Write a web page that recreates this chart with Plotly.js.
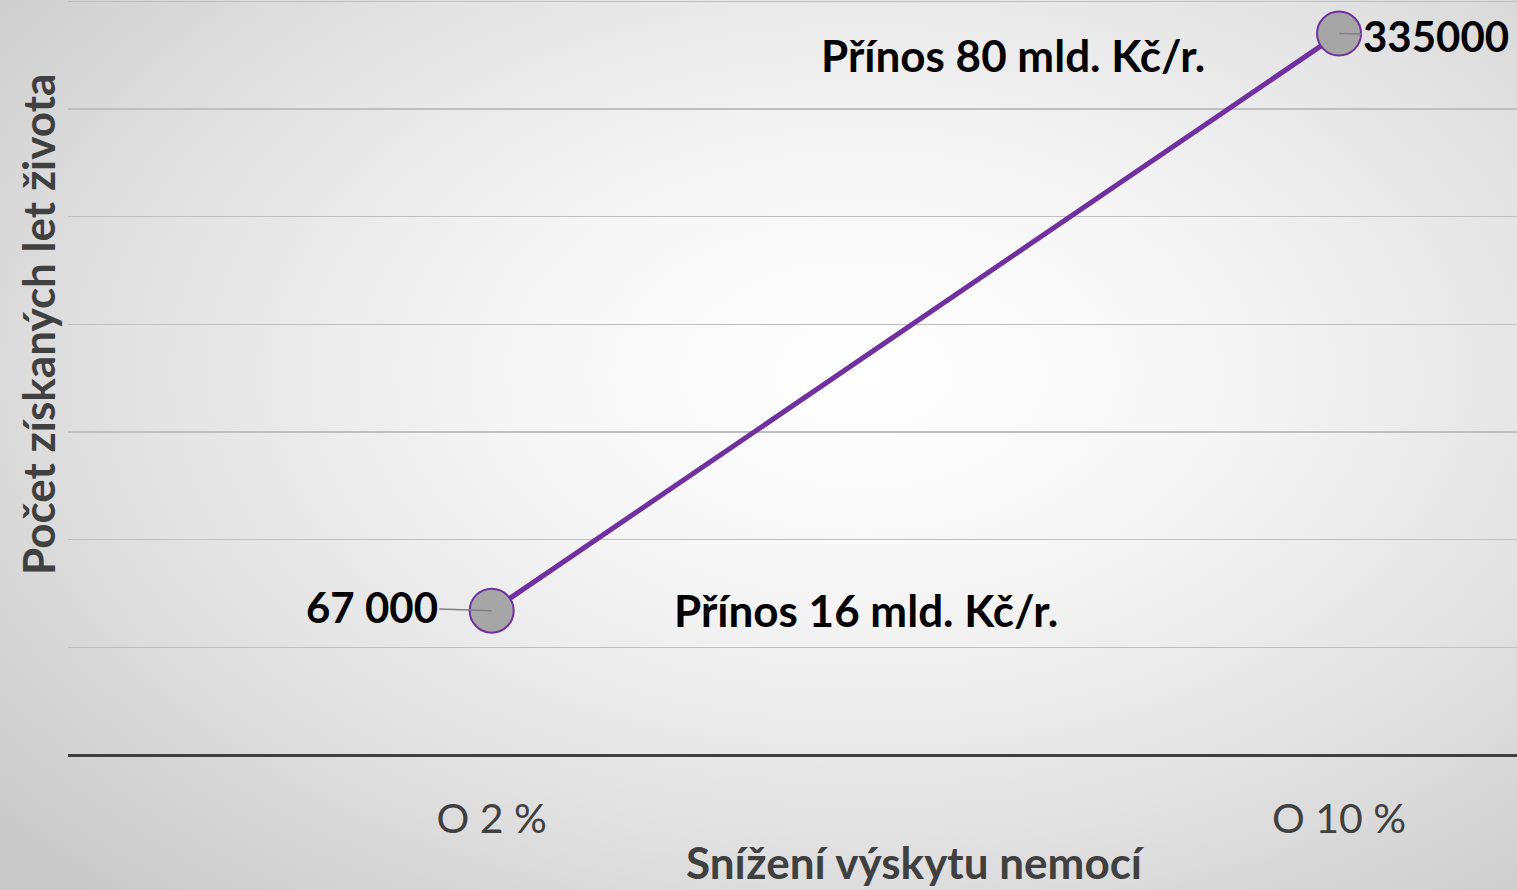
<!DOCTYPE html>
<html><head><meta charset="utf-8">
<script src="https://cdn.plot.ly/plotly-3.0.1.min.js"></script>
<style>
html,body{margin:0;padding:0;}
body{width:1517px;height:890px;overflow:hidden;background:radial-gradient(ellipse 75% 80% at 57% 42%, #ffffff 0%, #f6f6f6 30%, #e2e2e2 65%, #c9c9c9 100%);}
#chart{width:1517px;height:890px;}
</style></head>
<body><div id="chart"></div>
<script>
const categories = ["O 2 %", "O 10 %"];
const values = [67000, 335000];
const valueLabels = ["67 000", "335000"];
const notes = ["Přínos 16 mld. Kč/r.", "Přínos 80 mld. Kč/r."];
const xTitle = "Snížení výskytu nemocí";
const yTitle = "Počet získaných let života";

const xs = categories.map((c,i)=>i);
const FONT = "Lato, 'Open Sans', sans-serif";

const trace = {
  x: xs, y: values, type: 'scatter', mode: 'lines+markers',
  line: {color: '#7030a0', width: 5},
  marker: {size: 44, color: '#a6a6a6', line: {color: '#7030a0', width: 2}},
  hoverinfo: 'skip', showlegend: false
};

const labelOffsets = [[-120, -4], [97, 2]];
const annotations = values.map((v,i)=>({
  x: xs[i], y: v, xref: 'x', yref: 'y', text: '<b>' + valueLabels[i] + '</b>',
  showarrow: true, arrowhead: 0, arrowwidth: 1.5, arrowcolor: '#7f7f7f',
  ax: labelOffsets[i][0], ay: labelOffsets[i][1], standoff: 0,
  font: {family: FONT, size: 42, color: '#000000'}
}));
const common = {xref: 'paper', yref: 'paper', showarrow: false, xanchor: 'center', yanchor: 'middle'};
annotations.push(
  Object.assign({x: 0.5505, y: 0.192, text: '<b>' + notes[0] + '</b>',
   font: {family: FONT, size: 44, color: '#000000'}}, common),
  Object.assign({x: 0.652, y: 0.927, text: '<b>' + notes[1] + '</b>',
   font: {family: FONT, size: 44, color: '#000000'}}, common),
  Object.assign({x: 0.585, y: -0.1417, text: '<b>' + xTitle + '</b>',
   font: {family: FONT, size: 44, color: '#404040'}}, common),
  Object.assign({x: -0.0207, y: 0.5695, text: '<b>' + yTitle + '</b>', textangle: -90,
   font: {family: FONT, size: 44, color: '#404040'}}, common)
);

const layout = {
  width: 1517, height: 890,
  margin: {l: 68, r: 0, t: 0, b: 135},
  paper_bgcolor: 'rgba(0,0,0,0)', plot_bgcolor: 'rgba(0,0,0,0)',
  xaxis: {
    range: [-0.5, 1.21], tickvals: xs, ticktext: categories,
    showgrid: false, zeroline: false, showline: false, ticks: '',
    ticklabelstandoff: 36,
    tickfont: {family: FONT, size: 41, color: '#404040'}
  },
  yaxis: {
    range: [0, 350600], dtick: 50000, showticklabels: false,
    showgrid: true, gridcolor: '#bfbfbf', gridwidth: 1.3,
    zeroline: true, zerolinecolor: '#404040', zerolinewidth: 3,
    showline: false, ticks: ''
  },
  annotations: annotations
};

Plotly.newPlot('chart', [trace], layout, {displayModeBar: false, staticPlot: true});
</script>
</body></html>
